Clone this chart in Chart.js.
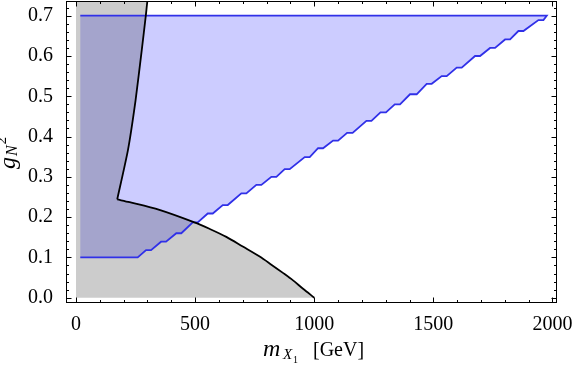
<!DOCTYPE html>
<html>
<head>
<meta charset="utf-8">
<script src="https://cdn.jsdelivr.net/npm/chart.js@4.4.1/dist/chart.umd.min.js"></script>
<style>
  html, body { margin: 0; padding: 0; background: #fff; }
  canvas { display: block; }
</style>
</head>
<body>
<canvas id="grafico" width="576" height="365"></canvas>
<script>
// marcas de los ejes
const xTicks = [0, 500, 1000, 1500, 2000];
const yTicks = [0, 0.1, 0.2, 0.3, 0.4, 0.5, 0.6, 0.7];

// curva negra: rama superior (casi vertical) y rama inferior
const upperX = [304, 300, 293, 276, 250, 218, 173];
const upperY = [0.75, 0.7387, 0.7, 0.6146, 0.49, 0.3665, 0.244];
const lowerX = [173, 225, 350, 497, 560, 631, 700, 771, 820, 870, 911, 953, 1000];
const lowerY = [0.244, 0.237, 0.218, 0.187, 0.171, 0.151, 0.127, 0.102, 0.082, 0.061, 0.043, 0.022, 0];

// region gris: esquinas del lado izquierdo
const grayCornerX = [0, 0];
const grayCornerY = [0.75, 0];

// region azul: borde inferior escalonado y borde superior
const stairX = [18, 259, 294, 315, 357, 378, 421, 442, 490, 511, 553, 574, 616, 637,
  694, 715, 757, 778, 820, 841, 876, 897, 960, 981, 1016, 1037, 1079, 1100, 1138, 1161,
  1219, 1240, 1278, 1301, 1338, 1360, 1402, 1430, 1472, 1493, 1535, 1556, 1598, 1619,
  1675, 1696, 1738, 1759, 1801, 1822, 1857, 1878, 1941, 1962, 1976];
const stairY = [0.1, 0.1, 0.118, 0.118, 0.139, 0.139, 0.16, 0.16, 0.187, 0.187, 0.209, 0.209, 0.23, 0.23,
  0.259, 0.259, 0.28, 0.28, 0.3, 0.3, 0.319, 0.319, 0.349, 0.349, 0.371, 0.371, 0.39, 0.39, 0.409, 0.409,
  0.439, 0.439, 0.46, 0.46, 0.48, 0.48, 0.505, 0.505, 0.531, 0.531, 0.55, 0.55, 0.571, 0.571,
  0.6, 0.6, 0.62, 0.62, 0.641, 0.641, 0.662, 0.662, 0.689, 0.689, 0.7];
const blueTopX = [18];
const blueTopY = [0.7];

const serif = '"Liberation Serif", "Times New Roman", serif';
const azul = 'rgb(48, 48, 232)';

const pts = (xs, ys) => xs.map((v, i) => ({ x: v, y: ys[i] }));

const bluePoly = pts(stairX.concat(blueTopX), stairY.concat(blueTopY));
const grayPoly = pts(
  [grayCornerX[0]].concat(upperX, lowerX.slice(1), [grayCornerX[1]]),
  [grayCornerY[0]].concat(upperY, lowerY.slice(1), [grayCornerY[1]])
);

// marco con marcas hacia dentro en los cuatro lados + titulos de ejes
const marcoPlugin = {
  id: 'marco',
  afterDraw(chart) {
    const { ctx, chartArea: a, scales: { x, y } } = chart;
    ctx.save();
    ctx.strokeStyle = '#000';
    ctx.lineWidth = 1;
    ctx.beginPath();
    for (let v = 0; v <= 2000; v += 100) {
      const px = Math.round(x.getPixelForValue(v)) + 0.5;
      const len = v % 500 === 0 ? 5.5 : 3;
      ctx.moveTo(px, a.bottom); ctx.lineTo(px, a.bottom - len);
      ctx.moveTo(px, a.top); ctx.lineTo(px, a.top + len);
    }
    for (let i = 0; i <= 36; i++) {
      const py = Math.round(y.getPixelForValue(i * 0.02)) + 0.5;
      const len = i % 5 === 0 ? 5.5 : 3;
      ctx.moveTo(a.left, py); ctx.lineTo(a.left + len, py);
      ctx.moveTo(a.right, py); ctx.lineTo(a.right - len, py);
    }
    ctx.stroke();
    ctx.strokeRect(a.left + 0.5, a.top + 0.5, a.width - 1, a.height - 1);

    // titulo eje x: m_{X_1} [GeV]
    ctx.fillStyle = '#000';
    ctx.textBaseline = 'alphabetic';
    ctx.font = 'italic 24px ' + serif;
    ctx.fillText('m', 263, 356);
    ctx.font = 'italic 15px ' + serif;
    ctx.fillText('X', 283, 359);
    ctx.font = '10px ' + serif;
    ctx.fillText('1', 293, 363);
    ctx.font = '20px ' + serif;
    ctx.fillText('[GeV]', 313, 356);

    // titulo eje y: g_N^2 (girado)
    ctx.translate(15, 154);
    ctx.rotate(-Math.PI / 2);
    const py = [
      { t: 'g', f: 'italic 24px ' + serif, dy: 0 },
      { t: 'N', f: 'italic 16px ' + serif, dy: 2 },
      { t: '2', f: '15px ' + serif, dy: -9 }
    ];
    let total = 0;
    py.forEach(p => { ctx.font = p.f; p.w = ctx.measureText(p.t).width; total += p.w; });
    let cx = -total / 2;
    py.forEach(p => {
      ctx.font = p.f;
      ctx.fillText(p.t, cx, p.dy);
      cx += p.w + 1;
    });
    ctx.restore();
  }
};

const base = { showLine: true, pointRadius: 0, pointHoverRadius: 0, tension: 0 };

new Chart(document.getElementById('grafico').getContext('2d'), {
  type: 'scatter',
  data: {
    datasets: [
      Object.assign({}, base, {
        data: bluePoly, fill: 'shape', backgroundColor: 'rgba(0, 0, 255, 0.2)',
        borderColor: 'transparent', borderWidth: 0, order: 4
      }),
      Object.assign({}, base, {
        data: grayPoly, fill: 'shape', backgroundColor: 'rgba(0, 0, 0, 0.2)',
        borderColor: 'transparent', borderWidth: 0, order: 3
      }),
      Object.assign({}, base, {
        data: bluePoly, fill: false, borderColor: azul, borderWidth: 1.8, order: 2
      }),
      Object.assign({}, base, {
        data: pts(upperX, upperY), fill: false, borderColor: '#000', borderWidth: 1.8,
        tension: 0.2, order: 1
      }),
      Object.assign({}, base, {
        data: pts(lowerX, lowerY), fill: false, borderColor: '#000', borderWidth: 1.8,
        tension: 0.3, order: 1
      })
    ]
  },
  options: {
    responsive: false,
    animation: false,
    events: [],
    layout: { padding: { top: 1, right: 19, left: 0, bottom: 0 } },
    plugins: { legend: { display: false }, tooltip: { enabled: false } },
    scales: {
      x: {
        type: 'linear',
        min: -42,
        max: 2019,
        grid: { display: false },
        border: { display: false },
        afterBuildTicks: s => { s.ticks = xTicks.map(v => ({ value: v })); },
        afterFit: s => { s.height = 62; s.paddingLeft = 0; s.paddingRight = 0; },
        ticks: {
          color: '#000',
          font: { family: serif, size: 20 },
          padding: 2,
          maxRotation: 0,
          autoSkip: false,
          callback: v => String(v)
        }
      },
      y: {
        type: 'linear',
        min: -0.0132,
        max: 0.7365,
        grid: { display: false },
        border: { display: false },
        afterBuildTicks: s => { s.ticks = yTicks.map(v => ({ value: v })); },
        afterFit: s => { s.width = 66; s.paddingTop = 0; s.paddingBottom = 0; },
        ticks: {
          color: '#000',
          font: { family: serif, size: 20 },
          padding: 5,
          autoSkip: false,
          callback: v => v.toFixed(1)
        }
      }
    }
  },
  plugins: [marcoPlugin]
});
</script>
</body>
</html>
